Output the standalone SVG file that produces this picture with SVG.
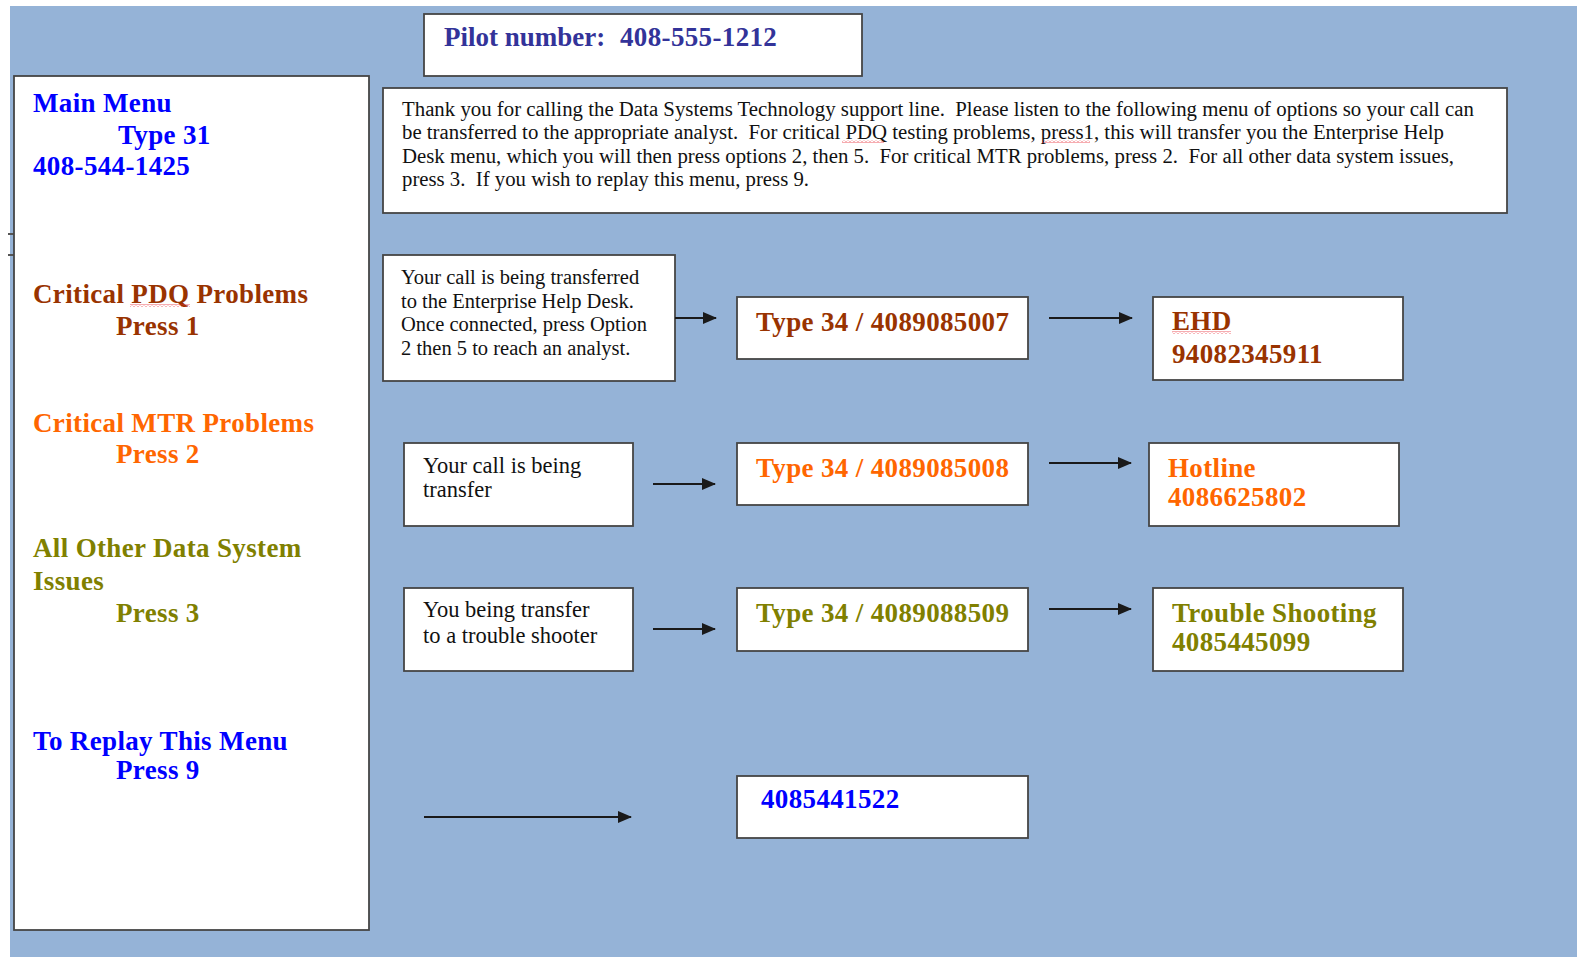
<svg xmlns="http://www.w3.org/2000/svg" width="1577" height="957" viewBox="0 0 1577 957">
  <defs>
    <style>
      .box { fill: #ffffff; stroke: #454545; stroke-width: 1.8; }
      .wire { fill: none; stroke: #1a1a1a; stroke-width: 2; }
      .hd { font-family: "Liberation Serif", "Times New Roman", serif; font-weight: bold; font-size: 27px; letter-spacing: 0.35px; }
      .body { font-family: "Liberation Serif", "Times New Roman", serif; font-size: 20.5px; fill: #111111; }
      .body2 { font-family: "Liberation Serif", "Times New Roman", serif; font-size: 22.5px; fill: #111111; }
      .blue { fill: #0000ff; }
      .brown { fill: #993300; }
      .orange { fill: #ff6600; }
      .olive { fill: #808000; }
      .navy { fill: #333399; }
      .squig { fill: url(#squiggle); }
    </style>
    <marker id="arrow" markerUnits="userSpaceOnUse" markerWidth="14" markerHeight="12" refX="13" refY="6" orient="auto">
      <path d="M0,0 L14,6 L0,12 z" fill="#1a1a1a"/>
    </marker>
    <pattern id="squiggle" patternUnits="userSpaceOnUse" width="4" height="3">
      <path d="M0,2.5 L2,0.5 L4,2.5" fill="none" stroke="#e8303a" stroke-width="0.8"/>
    </pattern>
  </defs>

  <!-- page background -->
  <rect x="0" y="0" width="1577" height="957" fill="#ffffff"/>
  <rect x="10" y="6" width="1567" height="951" fill="#95b3d7"/>
  <path d="M8 234 H14 M8 255 H14" stroke="#555555" stroke-width="2" fill="none"/>

  <!-- pilot number -->
  <g id="pilot">
    <rect class="box" x="424" y="14" width="438" height="62"/>
    <text class="hd navy" x="444" y="46" style="letter-spacing:0px">Pilot number:</text>
    <text class="hd navy" x="620" y="46">408-555-1212</text>
  </g>

  <!-- left menu column -->
  <g id="menu">
    <rect class="box" x="14" y="76" width="355" height="854"/>
    <text class="hd blue" x="33" y="112">Main Menu</text>
    <text class="hd blue" x="118" y="144">Type 31</text>
    <text class="hd blue" x="33" y="175">408-544-1425</text>

    <text class="hd brown" x="33" y="303">Critical PDQ Problems</text>
    <rect class="squig" x="130" y="304" width="60" height="3"/>
    <text class="hd brown" x="116" y="335">Press 1</text>

    <text class="hd orange" x="33" y="432">Critical MTR Problems</text>
    <text class="hd orange" x="116" y="463">Press 2</text>

    <text class="hd olive" x="33" y="557">All Other Data System</text>
    <text class="hd olive" x="33" y="590">Issues</text>
    <text class="hd olive" x="116" y="622">Press 3</text>

    <text class="hd blue" x="33" y="750">To Replay This Menu</text>
    <text class="hd blue" x="116" y="779">Press 9</text>
  </g>

  <!-- greeting -->
  <g id="greeting">
    <rect class="box" x="383" y="88" width="1124" height="125"/>
    <text class="body" xml:space="preserve" x="402" y="116" textLength="1072" lengthAdjust="spacingAndGlyphs">Thank you for calling the Data Systems Technology support line.  Please listen to the following menu of options so your call can</text>
    <text class="body" xml:space="preserve" x="402" y="139" textLength="1042" lengthAdjust="spacingAndGlyphs">be transferred to the appropriate analyst.  For critical PDQ testing problems, press1, this will transfer you the Enterprise Help</text>
    <text class="body" xml:space="preserve" x="402" y="163" textLength="1052" lengthAdjust="spacingAndGlyphs">Desk menu, which you will then press options 2, then 5.  For critical MTR problems, press 2.  For all other data system issues,</text>
    <text class="body" xml:space="preserve" x="402" y="186" textLength="407" lengthAdjust="spacingAndGlyphs">press 3.  If you wish to replay this menu, press 9.</text>
    <rect class="squig" x="842" y="140" width="42" height="3"/>
    <rect class="squig" x="1042" y="140" width="48" height="3"/>
  </g>

  <!-- option 1 -->
  <g id="pdq-msg">
    <rect class="box" x="383" y="255" width="292" height="126"/>
    <text class="body" x="401" y="284">Your call is being transferred</text>
    <text class="body" x="401" y="308">to the Enterprise Help Desk.</text>
    <text class="body" x="401" y="331">Once connected, press Option</text>
    <text class="body" x="401" y="355">2 then 5 to reach an analyst.</text>
  </g>
  <g id="pdq-type">
    <rect class="box" x="737" y="297" width="291" height="62"/>
    <text class="hd brown" x="756" y="331">Type 34 / 4089085007</text>
  </g>
  <g id="pdq-ehd">
    <rect class="box" x="1153" y="297" width="250" height="83"/>
    <text class="hd brown" x="1172" y="330">EHD</text>
    <rect class="squig" x="1172" y="331" width="59" height="3"/>
    <text class="hd brown" x="1172" y="363">94082345911</text>
  </g>

  <!-- option 2 -->
  <g id="mtr-msg">
    <rect class="box" x="404" y="443" width="229" height="83"/>
    <text class="body2" x="423" y="473">Your call is being</text>
    <text class="body2" x="423" y="497">transfer</text>
  </g>
  <g id="mtr-type">
    <rect class="box" x="737" y="443" width="291" height="62"/>
    <text class="hd orange" x="756" y="477">Type 34 / 4089085008</text>
  </g>
  <g id="mtr-hotline">
    <rect class="box" x="1149" y="443" width="250" height="83"/>
    <text class="hd orange" x="1168" y="477">Hotline</text>
    <text class="hd orange" x="1168" y="506">4086625802</text>
  </g>

  <!-- option 3 -->
  <g id="other-msg">
    <rect class="box" x="404" y="588" width="229" height="83"/>
    <text class="body2" x="423" y="617">You being transfer</text>
    <text class="body2" x="423" y="643">to a trouble shooter</text>
  </g>
  <g id="other-type">
    <rect class="box" x="737" y="588" width="291" height="63"/>
    <text class="hd olive" x="756" y="622">Type 34 / 4089088509</text>
  </g>
  <g id="other-shoot">
    <rect class="box" x="1153" y="588" width="250" height="83"/>
    <text class="hd olive" x="1172" y="622">Trouble Shooting</text>
    <text class="hd olive" x="1172" y="651">4085445099</text>
  </g>

  <!-- option 9 -->
  <g id="replay">
    <rect class="box" x="737" y="776" width="291" height="62"/>
    <text class="hd blue" x="761" y="808">4085441522</text>
  </g>

  <!-- connectors -->
  <g id="connectors">
    <path class="wire" d="M675 318 H716" marker-end="url(#arrow)"/>
    <path class="wire" d="M1049 318 H1132" marker-end="url(#arrow)"/>
    <path class="wire" d="M653 484 H715" marker-end="url(#arrow)"/>
    <path class="wire" d="M1049 463 H1131" marker-end="url(#arrow)"/>
    <path class="wire" d="M653 629 H715" marker-end="url(#arrow)"/>
    <path class="wire" d="M1049 609 H1131" marker-end="url(#arrow)"/>
    <path class="wire" d="M424 817 H631" marker-end="url(#arrow)"/>
  </g>
</svg>
